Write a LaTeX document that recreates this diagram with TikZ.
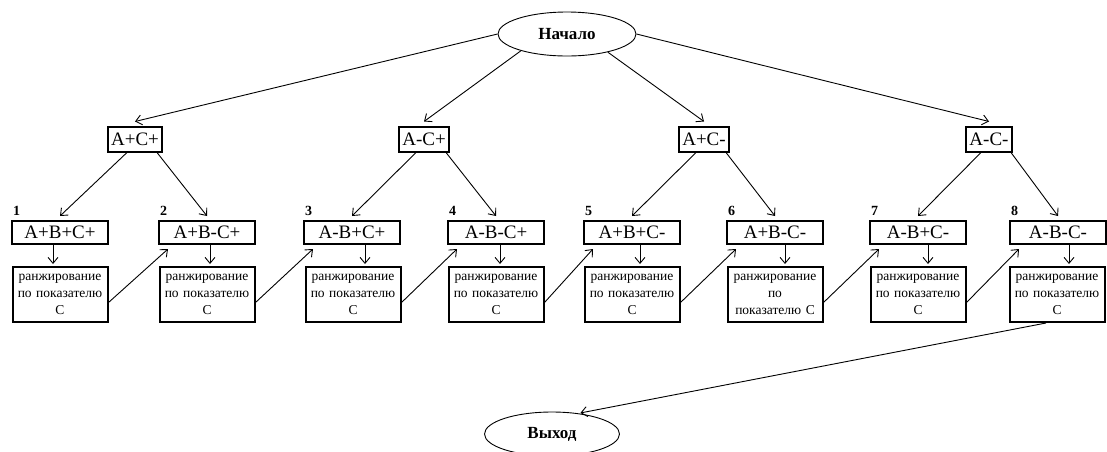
\documentclass[tikz,border=0pt]{standalone}
\usepackage{fontspec}
\setmainfont{Liberation Serif}
\usetikzlibrary{shapes.geometric,positioning,calc,arrows.meta}

\begin{document}
\begin{tikzpicture}[x=1pt,y=-1pt,
    >={Straight Barb[length=6pt,width=10pt]},
    term/.style={draw,ellipse,line width=0.9pt,inner sep=0pt,minimum width=138pt,minimum height=44pt,font=\fontsize{17}{20}\selectfont\bfseries},
    grp/.style={draw,line width=2pt,inner sep=3pt,minimum height=25pt,font=\fontsize{19}{21}\selectfont},
    var/.style={draw,line width=2pt,inner sep=2pt,minimum width=96pt,minimum height=23pt,font=\fontsize{19}{21}\selectfont},
    rank/.style={draw,line width=2pt,inner sep=2pt,text width=91pt,minimum height=55pt,align=center,font=\fontsize{13.5}{17}\selectfont},
    num/.style={font=\fontsize{14}{15}\selectfont\bfseries,inner sep=0pt},
    arr/.style={->,line width=0.9pt}]
    \useasboundingbox (0,0) rectangle (1107,451);
    \node[term] (start) at (567,34) {Начало};
    \node[term,minimum width=135pt] (exit) at (552,434) {Выход};
    \foreach \i/\x/\t in {1/135/A+C+,2/424/A-C+,3/704/A+C-,4/989/A-C-}
    \node[grp] (a\i) at (\x,139) {\t};
    \foreach \i/\x/\t in {1/60/A+B+C+,2/207/A+B-C+,3/352/A-B+C+,4/496/A-B-C+,5/632/A+B+C-,6/775/A+B-C-,7/918/A-B+C-,8/1058/A-B-C-}
    {
    \node[var] (b\i) at (\x,232.5) {\t};
    \node[num,above right=4pt and 2pt of b\i.north west] (n\i) {\i};
    }
    \foreach \i/\x in {1/60,2/207,3/353,4/496,5/632,7/918,8/1057}
    \node[rank] (r\i) at (\x,294.5) {ранжирование\\по показателю\\С};
    \node[rank] (r6) at (775,294.5) {ранжирование\\по\\показателю С};
    \draw[arr] (start.west) -- ([yshift=4pt]a1.north);
    \draw[arr] (start.200) -- ([yshift=4pt]a2.north);
    \draw[arr] (start.336) -- ([yshift=4pt]a3.north);
    \draw[arr] (start.east) -- ([yshift=4pt]a4.north);
    \foreach \i/\l/\r in {1/1/2,2/3/4,3/5/6,4/7/8}
    {
    \draw[arr] ($(a\i.south)+(-8,0)$) -- ([yshift=4pt]b\l.north);
    \draw[arr] ($(a\i.south)+(22,0)$) -- ([yshift=4pt]b\r.north);
    }
    \foreach \i/\d in {1/-7,2/3,3/13,4/4,5/8,6/10,7/10,8/11}
    \draw[arr] ($(b\i.south)+(\d,0)$) -- ($(b\i.south |- r\i.north)+(\d,-2)$);
    \foreach \i/\j in {1/2,2/3,3/4,4/5,5/6,6/7,7/8}
    \draw[arr] ($(r\i.east)+(0,8)$) -- ($(b\j.south west)+(10,4)$);
    \draw[arr,shorten >=2pt] ($(r8.south)+(-11,0)$) -- (exit.38);
\end{tikzpicture}
\end{document}
